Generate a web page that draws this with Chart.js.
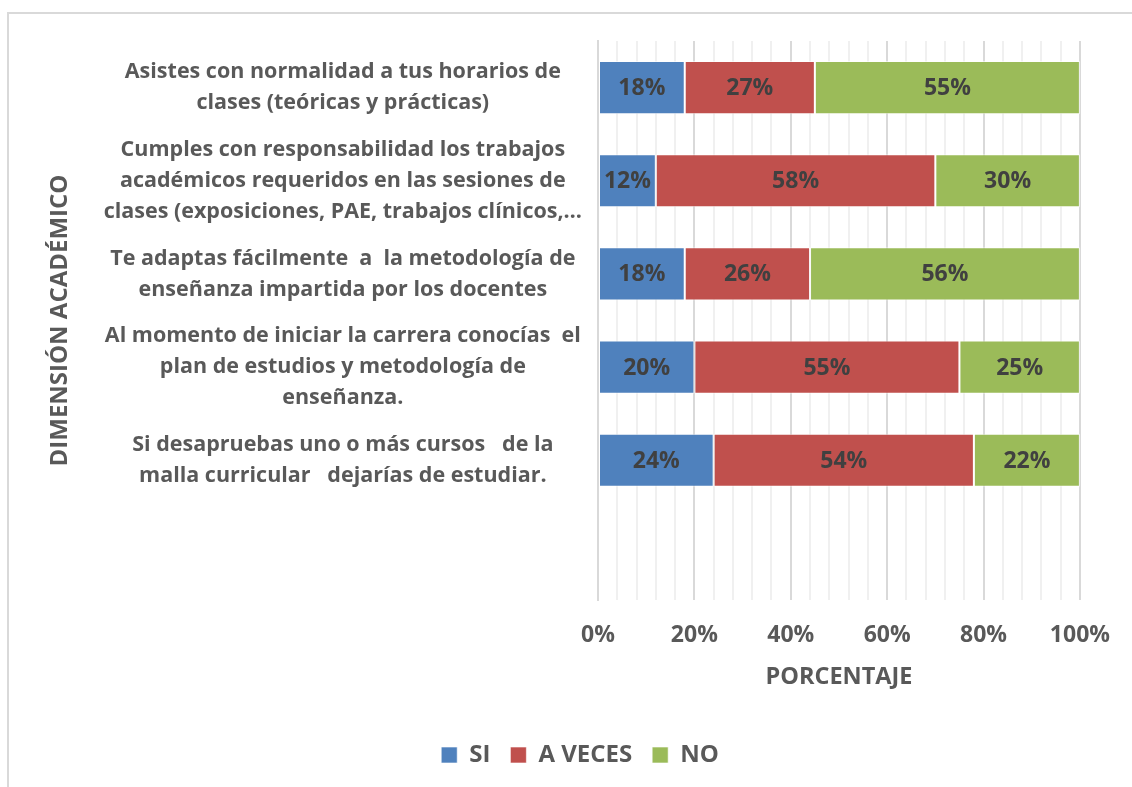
<!DOCTYPE html>
<html>
<head>
<meta charset="utf-8">
<script src="https://cdn.jsdelivr.net/npm/chart.js@4.4.1/dist/chart.umd.min.js"></script>
<style>
  html, body { margin: 0; padding: 0; background: #fff; overflow: hidden; }
  #wrap { position: relative; width: 1132px; height: 787px; }
  #frame { position: absolute; left: 7px; top: 12px; width: 1200px; height: 900px;
           border-left: 2px solid #d9d9d9; border-top: 2px solid #d9d9d9; }
  #chart { position: absolute; left: 0; top: 0; }
</style>
</head>
<body>
<div id="wrap">
  <div id="frame"></div>
  <canvas id="chart" width="1132" height="787"></canvas>
</div>
<script>
const categories = [
  ['Asistes con normalidad a tus horarios de', 'clases (teóricas y prácticas)'],
  ['Cumples con responsabilidad los trabajos', 'académicos requeridos en las sesiones de', 'clases (exposiciones, PAE, trabajos clínicos,…'],
  ['Te adaptas fácilmente  a  la metodología de', 'enseñanza impartida por los docentes'],
  ['Al momento de iniciar la carrera conocías  el', 'plan de estudios y metodología de', 'enseñanza.'],
  ['Si desapruebas uno o más cursos   de la', 'malla curricular   dejarías de estudiar.'],
  ''
];
const siValues = [18, 12, 18, 20, 24, null];
const aVecesValues = [27, 58, 26, 55, 54, null];
const noValues = [55, 30, 56, 25, 22, null];
const seriesNames = ['SI', 'A VECES', 'NO'];
const seriesColors = ['#4f81bd', '#c0504d', '#9bbb59'];

const FONT = '"Open Sans", sans-serif';
const textGray = '#595959';

// draws the percentage in the middle of each bar segment
const barLabels = {
  id: 'barLabels',
  afterDatasetsDraw(chart) {
    const ctx = chart.ctx;
    ctx.save();
    ctx.font = `bold 23px ${FONT}`;
    ctx.fillStyle = '#404040';
    ctx.textAlign = 'center';
    ctx.textBaseline = 'middle';
    chart.data.datasets.forEach((ds, i) => {
      chart.getDatasetMeta(i).data.forEach((bar, j) => {
        const v = ds.data[j];
        if (v == null) return;
        ctx.fillText(`${v}%`, (bar.x + bar.base) / 2, bar.y + 1);
      });
    });
    ctx.restore();
  }
};

// legend in the original sits centred on the whole frame, not on the plot side
const legendShift = {
  id: 'legendShift',
  afterLayout(chart) {
    chart.legend.left += 35;
    chart.legend.right += 35;
  }
};

const datasets = [siValues, aVecesValues, noValues].map((data, i) => ({
  label: seriesNames[i],
  data,
  backgroundColor: seriesColors[i],
  borderColor: 'rgba(255,255,255,0.6)',
  borderWidth: 1,
  borderSkipped: false,
  categoryPercentage: 0.57,
  barPercentage: 1
}));

new Chart(document.getElementById('chart'), {
  type: 'bar',
  data: { labels: categories, datasets },
  options: {
    indexAxis: 'y',
    responsive: false,
    animation: false,
    layout: { padding: { left: 8, top: 41, right: 50, bottom: 10 } },
    plugins: {
      legend: {
        position: 'bottom',
        labels: {
          boxWidth: 16, boxHeight: 16,
          color: textGray,
          font: { family: FONT, size: 24, weight: 'bold' },
          padding: 20
        }
      },
      tooltip: { enabled: false }
    },
    scales: {
      x: {
        stacked: true,
        min: 0, max: 100,
        afterFit: s => { s.height = 123; },
        grid: {
          drawTicks: false,
          lineWidth: 2,
          color: c => (c.tick && c.tick.value % 20 === 0) ? '#d9d9d9' : '#f0f0f0'
        },
        border: { display: false },
        ticks: {
          stepSize: 4,
          autoSkip: false,
          maxRotation: 0,
          padding: 22,
          color: textGray,
          font: { family: FONT, size: 23, weight: 'bold' },
          callback: v => (v % 20 === 0 ? `${v}%` : '')
        },
        title: {
          display: true,
          text: 'PORCENTAJE',
          color: textGray,
          font: { family: FONT, size: 23.5, weight: 'bold' },
          padding: { top: 0, bottom: 32 }
        }
      },
      y: {
        stacked: true,
        grid: { display: false, drawTicks: false },
        border: { display: true, color: '#d9d9d9', width: 2 },
        afterFit: s => { s.width = 590; s.paddingTop = 0; s.paddingBottom = 0; },
        ticks: {
          autoSkip: false,
          crossAlign: 'center',
          padding: 16,
          color: textGray,
          font: { family: FONT, size: 21.5, weight: 'bold', lineHeight: 1.44 }
        },
        title: {
          display: true,
          text: 'DIMENSIÓN ACADÉMICO',
          color: textGray,
          font: { family: FONT, size: 24, weight: 'bold' },
          padding: { top: 38, bottom: 0 }
        }
      }
    }
  },
  plugins: [barLabels, legendShift]
});
</script>
</body>
</html>
